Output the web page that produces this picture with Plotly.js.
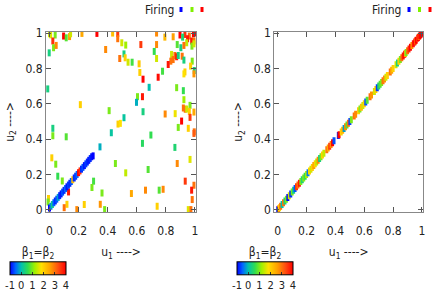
<!DOCTYPE html>
<html><head><meta charset="utf-8">
<script src="https://cdn.plot.ly/plotly-3.0.1.min.js"></script>
<style>html,body{margin:0;padding:0;background:#fff}#c{width:436px;height:300px}</style>
</head><body><div id="c"></div>
<script>
// Left panel: scattered firing points (u1, u2, beta)
const leftU1 = [0.0,0.008,0.039,0.097,0.115,0.138,0.145,0.223,0.326,0.434,0.469,0.469,0.497,0.023,0.028,0.046,-0.002,0.386,0.483,0.512,0.524,0.628,0.736,0.736,0.793,0.85,0.897,0.931,0.961,0.989,0.998,0.915,0.949,0.977,0.993,0.878,0.943,0.979,0.903,0.924,0.993,0.52,0.54,0.568,0.616,0.72,0.736,0.839,0.862,0.874,0.885,0.912,0.924,0.85,0.834,0.816,0.981,0.97,0.995,0.993,0.777,0.931,0.924,0.621,0.643,0.747,0.874,0.92,0.685,-0.012,0.605,0.639,0.598,0.924,0.643,0.212,0.41,0.512,0.471,0.487,0.92,0.933,0.943,0.966,0.961,0.993,0.795,0.864,0.908,0.966,0.885,0.954,0.995,0.993,0.425,0.347,0.023,0.023,0.115,0.697,0.639,0.862,0.016,0.043,0.057,0.088,0.303,0.292,0.131,0.361,-0.007,-0.01,0.12,0.101,0.188,0.239,0.349,0.379,0.453,0.524,0.678,0.878,0.966,0.933,0.993,0.977,0.981,0.563,0.66,0.754,0.781,0.74,0.954,0.972];
const leftU2 = [0.996,0.99,0.989,0.983,0.973,0.98,0.996,0.998,0.998,1.0,0.998,0.968,0.945,0.955,0.917,0.93,0.888,0.907,0.856,0.882,0.932,0.935,1.0,0.935,0.977,0.979,0.989,0.992,0.983,0.996,1.0,0.977,0.968,0.955,0.955,0.935,0.945,0.926,0.917,0.93,0.939,0.86,0.835,0.835,0.826,0.896,0.856,0.879,0.873,0.866,0.873,0.869,0.847,0.85,0.841,0.822,0.841,0.813,0.788,0.769,0.784,0.78,0.769,0.777,0.739,0.75,0.691,0.674,0.693,0.684,0.64,0.64,0.608,0.623,0.555,0.595,0.561,0.521,0.485,0.489,0.576,0.569,0.57,0.591,0.557,0.553,0.542,0.544,0.502,0.523,0.466,0.461,0.441,0.432,0.436,0.356,0.461,0.419,0.413,0.423,0.376,0.353,0.294,0.258,0.19,0.163,0.162,0.126,0.101,0.095,0.064,0.044,0.031,0.012,0.001,0.03,0.031,0.001,0.262,0.209,0.228,0.262,0.285,0.162,0.139,0.111,0.058,0.092,0.111,0.111,0.116,0.02,0.001,0.001];
const leftBeta = [1.5,1.6,1,4,0.8,2.6,1.5,2.5,4,2.2,3.5,3,1.5,3.6,1,2.8,0.3,2.8,3,0.3,1.2,3.5,2.8,2.8,2.3,2.6,4,3.6,3,4,4,0.4,3.8,3.8,3,0.8,1.4,1,0.3,3,1.5,2,1.5,0.7,2.1,0.6,1.5,1.5,3,3.8,0.3,3,0.3,3,3,3.8,1,2,0.3,2.7,0.7,2,1.8,2,4,3.9,1,0.6,0,0.3,1,3.8,-0.1,1.2,0.3,2,1,0.1,2,1.8,3,3,1.5,1,2,2.5,2.8,1.7,4,3.5,1,2,3,3.2,0.1,-0.1,0.3,1,0.8,0.6,0.5,0.4,2,1,0.6,1,0.7,1,3.8,1,2,1,2,3,2.8,2,2.7,1,1,1.4,0.8,2.8,1.6,3.5,3,3.8,3,2.5,2.8,0.8,2.8,2,1.6,3];
// Left panel: the blue diagonal segment
const diagU1 = [0.0,0.01,0.02,0.03,0.04,0.05,0.06,0.07,0.08,0.09,0.1,0.11,0.12,0.13,0.14,0.15,0.16,0.17,0.18,0.19,0.2,0.21,0.22,0.23,0.24,0.25,0.26,0.27,0.28,0.29,0.3];
const diagU2 = [0.01,0.02,0.03,0.04,0.05,0.06,0.07,0.08,0.09,0.1,0.11,0.12,0.13,0.14,0.15,0.16,0.17,0.18,0.19,0.2,0.21,0.22,0.23,0.24,0.25,0.26,0.27,0.28,0.29,0.3,0.305];
const diagBeta = [-1,-0.3,0.2,-0.5,-0.8,-0.6,-0.2,-0.8,-0.9,-0.6,-0.8,-0.5,-0.9,-0.7,-0.8,-0.6,2.2,-0.8,-0.7,-0.5,4,3.6,-0.8,-0.6,-0.9,-0.7,-0.8,-0.9,-0.8,-0.9,-1];
// Right panel: points along the diagonal
const rightU = [0.0,0.005,0.012,0.02,0.03,0.04,0.05,0.06,0.07,0.08,0.09,0.1,0.11,0.12,0.13,0.14,0.15,0.16,0.17,0.18,0.19,0.2,0.21,0.22,0.23,0.24,0.25,0.26,0.27,0.28,0.29,0.3,0.31,0.32,0.34,0.35,0.36,0.37,0.38,0.39,0.42,0.425,0.44,0.45,0.46,0.47,0.48,0.49,0.5,0.51,0.53,0.54,0.56,0.57,0.58,0.59,0.6,0.61,0.62,0.64,0.65,0.67,0.68,0.69,0.7,0.71,0.72,0.73,0.74,0.75,0.76,0.78,0.79,0.8,0.82,0.83,0.84,0.85,0.86,0.87,0.88,0.885,0.89,0.9,0.91,0.92,0.93,0.94,0.95,0.955,0.96,0.97,0.975,0.98,0.985,0.99,0.995,1.0];
const rightBeta = [-1,3,2,3,0,3,0.3,1,-1,1.5,-0.8,1,0.2,-0.6,3.5,3,3.8,1,0.4,1,0.6,1.3,-0.4,2,1.5,2,2.6,2,1.4,2.8,0.3,1,2,1.4,3,2.5,3.5,2.8,4,-0.6,-0.8,4,2,2.3,-0.2,2.8,0.8,3,-0.7,1,3,2.8,2,1,2.2,1.5,2,-0.6,0.8,3,2.7,1.5,2,-0.7,0.4,0.8,1,3,2.8,1.5,2,3,2.5,2,1.5,0.3,2,1,3,3.8,4,2.5,1,3,3.6,4,2.7,3.8,4,3,4,3.5,4,3,4,4,4,4];
const cbTicks = [-1,0,1,2,3,4];

const W=436,H=300, L=46,R=13,T=32,B=88;
const PW=W-L-R, PH=H-T-B;
const px=x=>(x-L)/PW, py=y=>(H-B-y)/PH;
const FONT='"DejaVu Sans Condensed","Liberation Sans Narrow",sans-serif';
const TF={family:FONT,size:12,color:'#222'};
const cscale=[[0,'#0000ff'],[0.1,'#0066ff'],[0.2,'#00c0b0'],[0.32,'#30dd50'],[0.44,'#a0f000'],[0.56,'#ffe000'],[0.72,'#ffa000'],[0.86,'#ff5010'],[1,'#ff0000']];

function cb(xc){
  return {orientation:'h', x:px(xc), xanchor:'center', y:py(296), yanchor:'bottom',
    len:56, lenmode:'pixels', thickness:13, thicknessmode:'pixels',
    outlinewidth:1, outlinecolor:'#000', xpad:0, ypad:0,
    tickvals:cbTicks, ticktext:cbTicks.map(String), ticks:'inside', ticklen:3, tickcolor:'#333',
    tickfont:{family:FONT,size:11,color:'#222'},
    title:{text:'β<sub>1</sub>=β<sub>2</sub>', side:'top', font:TF}};
}
function mk(x,y,c,xa,ya,show,cbx){
  return {type:'scatter',mode:'markers',x:x,y:y,xaxis:xa,yaxis:ya,hoverinfo:'skip',
    marker:{symbol:'line-ns-open',size:5,line:{width:3},color:c,cmin:-1,cmax:4,colorscale:cscale,
      showscale:show, colorbar:show?cb(cbx):undefined}};
}
const data=[
  mk(leftU1,leftU2,leftBeta,'x','y',true,38),
  mk(diagU1,diagU2,diagBeta,'x','y',false),
  mk(rightU,rightU,rightBeta,'x2','y2',true,265)
];
const ax=(dom,anchor)=>({domain:dom,anchor:anchor,range:[-0.024,1.007],tick0:0,dtick:0.2,ticks:'inside',ticklen:5,
  tickcolor:'#555',mirror:'ticks',showline:true,linecolor:'#888',linewidth:1,zeroline:false,showgrid:false,
  tickfont:TF, ticklabelstandoff:8,
  title:{text:'u<sub>1</sub> ----&gt;',font:TF,standoff:10}});
const ay=(anchor)=>({domain:[0,1],anchor:anchor,range:[-0.0125,1.006],tick0:0,dtick:0.2,ticks:'inside',ticklen:5,
  tickcolor:'#555',mirror:'ticks',showline:true,linecolor:'#888',linewidth:1,zeroline:false,showgrid:false,
  tickfont:TF,
  title:{text:'u<sub>2</sub> ----&gt;',font:TF,standoff:8}});
const legendMarks=[];
[[181,'#0000ff'],[192,'#80f000'],[202,'#ff0000'],[409,'#0000ff'],[419.5,'#80f000'],[430,'#ff0000']].forEach(([x,c])=>{
  legendMarks.push({type:'rect',xref:'paper',yref:'paper',x0:px(x-1.5),x1:px(x+1.5),y0:py(12),y1:py(7),fillcolor:c,line:{width:0}});
});
const layout={width:W,height:H,margin:{l:L,r:R,t:T,b:B,autoexpand:false},paper_bgcolor:'#fff',plot_bgcolor:'#fff',showlegend:false,
  xaxis:ax([0,150/PW],'y'), yaxis:ay('x'),
  xaxis2:ax([(274.3-L)/PW,1],'y2'), yaxis2:ay('x2'),
  shapes:legendMarks,
  annotations:[
    {xref:'paper',yref:'paper',x:px(176),y:py(10),xanchor:'right',yanchor:'middle',text:'Firing',showarrow:false,font:TF},
    {xref:'paper',yref:'paper',x:px(403),y:py(10),xanchor:'right',yanchor:'middle',text:'Firing',showarrow:false,font:TF}
  ]};
Plotly.newPlot('c',data,layout,{staticPlot:true,displayModeBar:false});
</script></body></html>
